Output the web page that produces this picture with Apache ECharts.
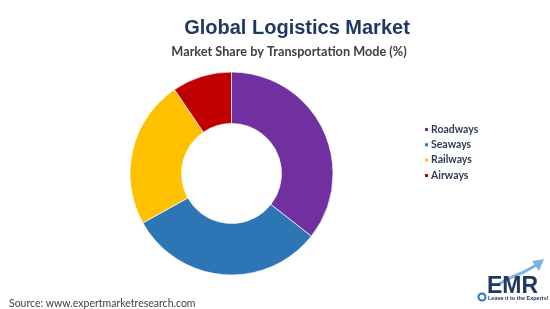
<!DOCTYPE html>
<html><head><meta charset="utf-8">
<script src="https://cdn.jsdelivr.net/npm/echarts@6/dist/echarts.min.js"></script>
<style>html,body{margin:0;padding:0;background:#fff}#c{width:550px;height:309px}</style>
</head><body><div id="c"></div>
<script>
const categories = ['Roadways', 'Seaways', 'Railways', 'Airways'];
const shares = [35.6, 31.3, 23.6, 9.5];
const colors = ['#7030A0', '#2E75B6', '#FFC000', '#C00000'];
const titleText = 'Global Logistics Market';
const subtitleText = 'Market Share by Transportation Mode (%)';
const sourceText = 'Source: www.expertmarketresearch.com';

const chart = echarts.init(document.getElementById('c'), null, {renderer: 'canvas'});
chart.setOption({
  backgroundColor: '#fff',
  animation: false,
  color: colors,
  title: [
    {text: titleText, left: 292, top: 13, textAlign: 'center',
     textStyle: {fontFamily: 'Liberation Sans, Arial', fontWeight: 'bold', fontSize: 20, color: '#1F3864'}},
    {text: subtitleText, left: 284, top: 40, textAlign: 'center',
     textStyle: {fontFamily: 'Lato', fontWeight: 'bold', fontSize: 12.7, color: '#404040'}},
    {text: sourceText, left: 4, top: 293,
     textStyle: {fontFamily: 'Lato', fontWeight: 'normal', fontSize: 10.5, color: '#404040'}}
  ],
  legend: {
    orient: 'vertical', left: 423, top: 124, padding: 0,
    itemWidth: 5, itemHeight: 5, itemGap: 4.3, icon: 'rect',
    data: categories,
    textStyle: {fontFamily: 'Lato', fontWeight: 'bold', fontSize: 10.5, color: '#2F3B55', padding: [0,0,0,-3]}
  },
  series: [{
    type: 'pie',
    center: [231.5, 173.5],
    radius: [50, 101.5],
    startAngle: 90,
    clockwise: true,
    label: {show: false},
    labelLine: {show: false},
    itemStyle: {borderColor: '#fff', borderWidth: 0.7},
    data: categories.map((c, i) => ({name: c, value: shares[i]}))
  }],
  graphic: [
    {type: 'polyline', shape: {points: [[497,285],[512,277],[524,272],[538,264]]},
     style: {stroke: '#7FB2DF', lineWidth: 3, fill: null}},
    {type: 'polygon', shape: {points: [[544,259],[532,261],[539,271]]}, style: {fill: '#7FB2DF'}},
    {type: 'text', left: 487, top: 275,
     style: {text: 'EMR', font: 'bold 23px "Liberation Sans", Arial', fill: '#1F3864'}},
    {type: 'circle', shape: {cx: 482, cy: 297, r: 3.5}, style: {stroke: '#2E75B6', lineWidth: 2, fill: '#fff'}},
    {type: 'text', left: 488, top: 295,
     style: {text: 'Leave it to the Experts!', font: 'bold 5.5px "Liberation Sans", Arial', fill: '#1F3864'}}
  ]
});
</script></body></html>
